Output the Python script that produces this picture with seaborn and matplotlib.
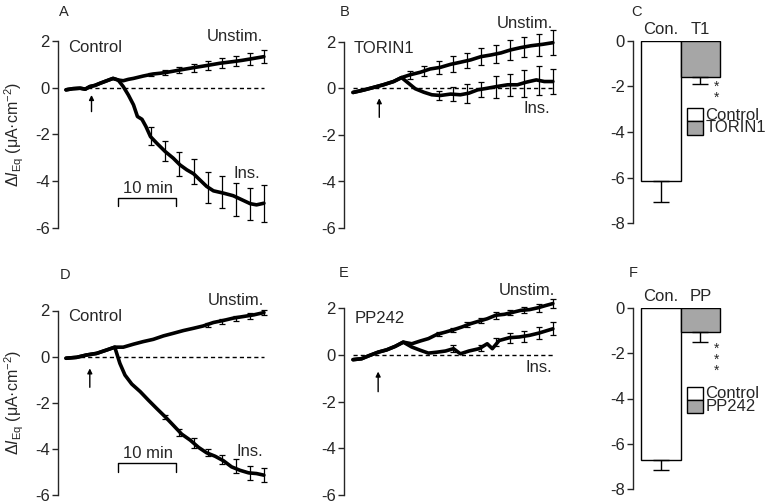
import numpy as np
import pandas as pd
import seaborn as sns
import matplotlib.pyplot as plt
from matplotlib.patches import Rectangle

sns.set_style("ticks")
plt.rcParams['font.family'] = ['Liberation Sans', 'DejaVu Sans']
plt.rcParams['mathtext.fontset'] = 'custom'
plt.rcParams['mathtext.rm'] = 'Liberation Sans'
plt.rcParams['mathtext.it'] = 'Liberation Sans:italic'
plt.rcParams['axes.unicode_minus'] = False

FS = 12

# ---- traces (time in min, delta I_Eq in uA/cm2) ----
# panel A (control)
a_uns_t = [0, 1.2, 2.5, 3.4, 4.2, 5.1, 6.0, 7.2, 8.3, 9.2, 10.1, 11.0, 11.9, 13.6, 15.4, 16.6, 17.8, 20.1, 22.5, 24.8, 27.2, 29.5, 31.0, 32.5, 34.9]
a_uns_v = [-0.09, -0.04, -0.02, -0.06, 0.05, 0.10, 0.19, 0.30, 0.40, 0.33, 0.30, 0.36, 0.40, 0.50, 0.59, 0.62, 0.66, 0.76, 0.86, 0.95, 1.05, 1.12, 1.17, 1.23, 1.33]
a_ins_t = [0, 1.2, 2.5, 3.4, 4.2, 5.1, 6.0, 7.2, 8.3, 9.2, 10.1, 11.0, 11.9, 12.6, 13.4, 14.1, 14.9, 16.0, 17.5, 18.9, 20.1, 21.3, 22.5, 23.6, 24.8, 26.0, 27.8, 29.5, 31.0, 32.5, 33.6, 34.9]
a_ins_v = [-0.09, -0.04, -0.02, -0.06, 0.05, 0.10, 0.19, 0.30, 0.40, 0.33, 0.05, -0.31, -0.73, -1.23, -1.35, -1.66, -2.09, -2.37, -2.73, -3.01, -3.30, -3.51, -3.68, -3.94, -4.22, -4.41, -4.51, -4.62, -4.79, -4.96, -5.01, -4.94]
a_uns_err_t = [15, 17.5, 20, 22.5, 25, 27.5, 30, 32.5, 35]
a_uns_err_m = [0.57, 0.65, 0.76, 0.86, 0.96, 1.06, 1.14, 1.23, 1.33]
a_uns_err_e = [0.08, 0.12, 0.14, 0.17, 0.19, 0.21, 0.22, 0.25, 0.27]
a_ins_err_t = [15, 17.5, 20, 22.5, 25, 27.5, 30, 32.5, 35]
a_ins_err_m = [-2.07, -2.70, -3.28, -3.58, -4.27, -4.47, -4.79, -4.98, -4.95]
a_ins_err_e = [0.38, 0.43, 0.51, 0.53, 0.66, 0.69, 0.71, 0.67, 0.78]

# panel B (TORIN1)
b_uns_t = [0, 1.8, 3.5, 5.3, 7.1, 8.5, 10.0, 11.8, 13.5, 15.3, 17.1, 18.8, 20.6, 22.4, 24.1, 25.9, 27.6, 29.4, 31.2, 33.2, 35.0]
b_uns_v = [-0.17, -0.07, 0.04, 0.16, 0.30, 0.47, 0.59, 0.70, 0.84, 0.91, 1.04, 1.13, 1.23, 1.37, 1.44, 1.53, 1.66, 1.76, 1.84, 1.90, 1.97]
b_ins_t = [0, 1.8, 3.5, 5.3, 7.1, 8.5, 9.7, 10.9, 12.4, 13.8, 15.3, 17.1, 18.8, 20.3, 21.8, 23.5, 25.3, 27.1, 28.8, 30.3, 32.1, 33.5, 35.0]
b_ins_v = [-0.17, -0.07, 0.04, 0.16, 0.30, 0.47, 0.23, -0.01, -0.16, -0.27, -0.30, -0.24, -0.27, -0.20, -0.06, 0.01, 0.09, 0.16, 0.16, 0.27, 0.37, 0.30, 0.30]
b_uns_err_t = [10, 12.5, 15, 17.5, 20, 22.5, 25, 27.5, 30, 32.5, 35]
b_uns_err_m = [0.59, 0.75, 0.90, 1.06, 1.20, 1.37, 1.48, 1.65, 1.78, 1.88, 1.97]
b_uns_err_e = [0.18, 0.22, 0.27, 0.33, 0.33, 0.36, 0.39, 0.44, 0.43, 0.47, 0.53]
b_ins_err_t = [15, 17.5, 20, 22.5, 25, 27.5, 30, 32.5, 35]
b_ins_err_m = [-0.30, -0.24, -0.22, -0.04, 0.08, 0.16, 0.22, 0.35, 0.30]
b_ins_err_e = [0.20, 0.29, 0.40, 0.33, 0.47, 0.47, 0.58, 0.62, 0.55]

# panel D (control)
d_uns_t = [0, 1.9, 3.6, 5.4, 7.2, 8.6, 10.1, 11.9, 13.6, 15.4, 17.2, 18.9, 20.7, 22.5, 24.2, 26.0, 27.8, 29.5, 31.3, 33.1, 34.9]
d_uns_v = [-0.07, -0.03, 0.07, 0.14, 0.29, 0.41, 0.41, 0.54, 0.65, 0.75, 0.90, 1.01, 1.13, 1.23, 1.33, 1.48, 1.57, 1.67, 1.74, 1.81, 1.91]
d_ins_t = [0, 1.9, 3.6, 5.4, 7.2, 8.6, 9.5, 10.4, 11.6, 13.1, 14.5, 16.0, 17.5, 18.9, 20.4, 21.9, 23.4, 24.8, 26.3, 27.8, 29.2, 30.7, 32.2, 33.6, 34.9]
d_ins_v = [-0.07, -0.03, 0.07, 0.14, 0.29, 0.41, -0.29, -0.80, -1.19, -1.52, -1.88, -2.25, -2.61, -2.97, -3.36, -3.62, -3.94, -4.17, -4.32, -4.52, -4.78, -4.93, -5.04, -5.07, -5.14]
d_uns_err_t = [25, 27.5, 30, 32.5, 35]
d_uns_err_m = [1.38, 1.52, 1.64, 1.77, 1.91]
d_uns_err_e = [0.08, 0.10, 0.10, 0.12, 0.12]
d_ins_err_t = [17.5, 20, 22.5, 25, 27.5, 30, 32.5, 35]
d_ins_err_m = [-2.61, -3.30, -3.75, -4.15, -4.45, -4.75, -5.04, -5.14]
d_ins_err_e = [0.10, 0.15, 0.20, 0.15, 0.20, 0.30, 0.30, 0.30]

# panel E (PP242)
e_uns_t = [0, 1.5, 2.9, 4.4, 5.9, 7.4, 8.8, 10.3, 11.8, 13.2, 14.7, 16.2, 17.6, 19.1, 20.6, 22.1, 23.5, 25.0, 26.5, 27.9, 29.4, 30.9, 32.4, 33.8, 35.0]
e_uns_v = [-0.21, -0.17, -0.03, 0.11, 0.21, 0.36, 0.54, 0.47, 0.59, 0.69, 0.87, 0.97, 1.07, 1.19, 1.33, 1.44, 1.54, 1.69, 1.73, 1.81, 1.90, 1.93, 2.01, 2.11, 2.19]
e_ins_t = [0, 1.5, 2.9, 4.4, 5.9, 7.4, 8.8, 10.3, 11.8, 13.2, 14.7, 16.2, 17.6, 18.8, 20.3, 22.1, 23.5, 24.4, 25.6, 27.4, 29.1, 30.9, 32.6, 35.0]
e_ins_v = [-0.21, -0.17, -0.03, 0.11, 0.21, 0.36, 0.54, 0.33, 0.19, 0.07, 0.11, 0.16, 0.26, 0.04, 0.16, 0.26, 0.47, 0.26, 0.61, 0.73, 0.76, 0.83, 0.93, 1.11]
e_uns_err_t = [15, 17.5, 20, 22.5, 25, 27.5, 30, 32.5, 35]
e_uns_err_m = [0.89, 1.07, 1.29, 1.47, 1.69, 1.80, 1.91, 2.01, 2.19]
e_uns_err_e = [0.10, 0.08, 0.12, 0.10, 0.15, 0.10, 0.12, 0.18, 0.20]
e_ins_err_t = [17.5, 22.5, 25, 27.5, 30, 32.5, 35]
e_ins_err_m = [0.26, 0.30, 0.55, 0.73, 0.78, 0.92, 1.11]
e_ins_err_e = [0.15, 0.12, 0.18, 0.22, 0.25, 0.25, 0.28]

# ---- summary bars ----
c_labels = ["Con.", "T1"]
c_means = [-6.17, -1.57]
c_err = [0.90, 0.32]
c_legend = ["Control", "TORIN1"]
f_labels = ["Con.", "PP"]
f_means = [-6.70, -1.06]
f_err = [0.44, 0.44]
f_legend = ["Control", "PP242"]
bar_colors = ["white", "#a6a6a6"]

W, H = 768, 504
fig = plt.figure(figsize=(W / 100, H / 100), dpi=100)


def px_axes(left, top, right, bottom):
    return fig.add_axes([left / W, 1 - bottom / H, (right - left) / W, (bottom - top) / H])


def style_axes(ax, ylim, yticks):
    sns.despine(ax=ax, bottom=True)
    ax.set_ylim(*ylim)
    ax.set_yticks(yticks)
    ax.set_xticks([])
    ax.set_xlabel("")
    ax.set_ylabel("")
    ax.spines['left'].set_linewidth(1.0)
    ax.tick_params(axis='y', length=4, width=1.0, labelsize=FS, pad=2)


def trace_panel(ax, xlim, lines, errs):
    for t, v in lines:
        df = pd.DataFrame({"t": t, "v": v})
        sns.lineplot(data=df, x="t", y="v", ax=ax, color="black", lw=2.6, clip_on=False)
    for t, m, e in errs:
        ax.errorbar(t, m, yerr=e, fmt="none", ecolor="black", elinewidth=0.9,
                    capsize=2.5, capthick=0.9, clip_on=False)
    # zero reference line over the recording
    ax.plot([0, 35], [0, 0], color="black", lw=1.0, dashes=(3, 2.2))
    ax.set_xlim(*xlim)
    style_axes(ax, (-6, 2), [2, 0, -2, -4, -6])


def arrow(ax, t, y0, y1):
    ax.annotate("", xy=(t, y1), xytext=(t, y0),
                arrowprops=dict(arrowstyle="-|>", lw=1.0, color="black", mutation_scale=7,
                                shrinkA=0, shrinkB=0))


def scalebar(ax, ytop, yend, ytext):
    ax.plot([9.2, 9.2, 19.35, 19.35], [yend, ytop, ytop, yend], color="black", lw=1.0)
    ax.text(14.4, ytext, "10 min", ha="center", va="center", fontsize=FS)


ylab = r"Δ$\mathit{I}_{\mathrm{Eq}}$ (μA·cm$^{-2}$)"

# A
axA = px_axes(58, 41, 272, 228)
trace_panel(axA, (-1.41, 36.33),
            [(a_uns_t, a_uns_v), (a_ins_t, a_ins_v)],
            [(a_uns_err_t, a_uns_err_m, a_uns_err_e), (a_ins_err_t, a_ins_err_m, a_ins_err_e)])
axA.text(0.3, 1.74, "Control", ha="left", va="center", fontsize=FS)
axA.text(34.7, 2.2, "Unstim.", ha="right", va="center", fontsize=FS, clip_on=False)
axA.text(34.2, -3.68, "Ins.", ha="right", va="center", fontsize=FS)
arrow(axA, 4.5, -1.02, -0.31)
scalebar(axA, -4.70, -5.05, -4.29)
axA.set_ylabel(ylab, fontsize=11.5)
axA.yaxis.set_label_coords(-0.15, 0.5)

# B
axB = px_axes(344, 42, 560, 228)
trace_panel(axB, (-1.58, 36.25),
            [(b_uns_t, b_uns_v), (b_ins_t, b_ins_v)],
            [(b_uns_err_t, b_uns_err_m, b_uns_err_e), (b_ins_err_t, b_ins_err_m, b_ins_err_e)])
axB.text(0.1, 1.73, "TORIN1", ha="left", va="center", fontsize=FS)
axB.text(35.0, 2.79, "Unstim.", ha="right", va="center", fontsize=FS, clip_on=False)
axB.text(34.5, -0.84, "Ins.", ha="right", va="center", fontsize=FS)
arrow(axB, 4.6, -1.24, -0.42)

# D
axD = px_axes(58, 310.5, 272, 495)
trace_panel(axD, (-1.41, 36.33),
            [(d_uns_t, d_uns_v), (d_ins_t, d_ins_v)],
            [(d_uns_err_t, d_uns_err_m, d_uns_err_e), (d_ins_err_t, d_ins_err_m, d_ins_err_e)])
axD.text(0.3, 1.75, "Control", ha="left", va="center", fontsize=FS)
axD.text(35.0, 2.45, "Unstim.", ha="right", va="center", fontsize=FS, clip_on=False)
axD.text(34.8, -4.1, "Ins.", ha="right", va="center", fontsize=FS)
arrow(axD, 4.2, -1.33, -0.51)
scalebar(axD, -4.63, -4.99, -4.22)
axD.set_ylabel(ylab, fontsize=11.5)
axD.yaxis.set_label_coords(-0.15, 0.5)

# E
axE = px_axes(344, 308, 560, 495)
trace_panel(axE, (-1.58, 36.25),
            [(e_uns_t, e_uns_v), (e_ins_t, e_ins_v)],
            [(e_uns_err_t, e_uns_err_m, e_uns_err_e), (e_ins_err_t, e_ins_err_m, e_ins_err_e)])
axE.text(0.3, 1.53, "PP242", ha="left", va="center", fontsize=FS)
axE.text(35.4, 2.74, "Unstim.", ha="right", va="center", fontsize=FS, clip_on=False)
axE.text(34.8, -0.53, "Ins.", ha="right", va="center", fontsize=FS)
arrow(axE, 4.4, -1.58, -0.72)


def bar_panel(ax, labels, means, err, stars, star_y, legend, leg_top):
    df = pd.DataFrame({"grp": labels, "val": means})
    sns.barplot(data=df, x="grp", y="val", hue="grp", palette=bar_colors, legend=False,
                width=1.0, edgecolor="black", linewidth=1.0, ax=ax)
    ax.errorbar([0, 1], means, yerr=[err, [0, 0]], fmt="none", ecolor="black",
                elinewidth=1.0, capsize=6, capthick=1.0)
    ax.set_xlim(-0.70, 2.0)
    style_axes(ax, (-8, 0), [0, -2, -4, -6, -8])
    ax.xaxis.tick_top()
    ax.set_xticks([0, 1])
    ax.set_xticklabels(labels)
    ax.tick_params(axis='x', length=0, labelsize=FS, pad=3)
    # significance stars stacked vertically
    ax.text(1.42, star_y, "\n".join(["*"] * stars), ha="center", va="top",
            fontsize=10, linespacing=0.72)
    # legend boxes, labels as one block so the rows sit tight like the original
    box_h = 13.4
    for i in range(len(legend)):
        y0 = leg_top + i * box_h
        fig.patches.append(Rectangle((687 / W, 1 - (y0 + box_h) / H), 16 / W, box_h / H,
                                     transform=fig.transFigure, facecolor=bar_colors[i],
                                     edgecolor="black", lw=1.0))
    fig.text(705.5 / W, 1 - (leg_top + box_h) / H, "\n".join(legend), ha="left",
             va="center", fontsize=FS, linespacing=0.8)


axC = px_axes(633, 41, 740, 223)
bar_panel(axC, c_labels, c_means, c_err, 2, -1.72, c_legend, 108)

axF = px_axes(633, 308, 740, 489)
bar_panel(axF, f_labels, f_means, f_err, 3, -1.5, f_legend, 386.7)

# panel letters
for lab, x, y in [("A", 64, 12), ("B", 345, 12), ("C", 637, 12),
                  ("D", 65, 275), ("E", 344, 273), ("F", 633, 273)]:
    fig.text(x / W, 1 - y / H, lab, ha="center", va="center", fontsize=10.5)

fig.savefig("out.png", dpi=100)
